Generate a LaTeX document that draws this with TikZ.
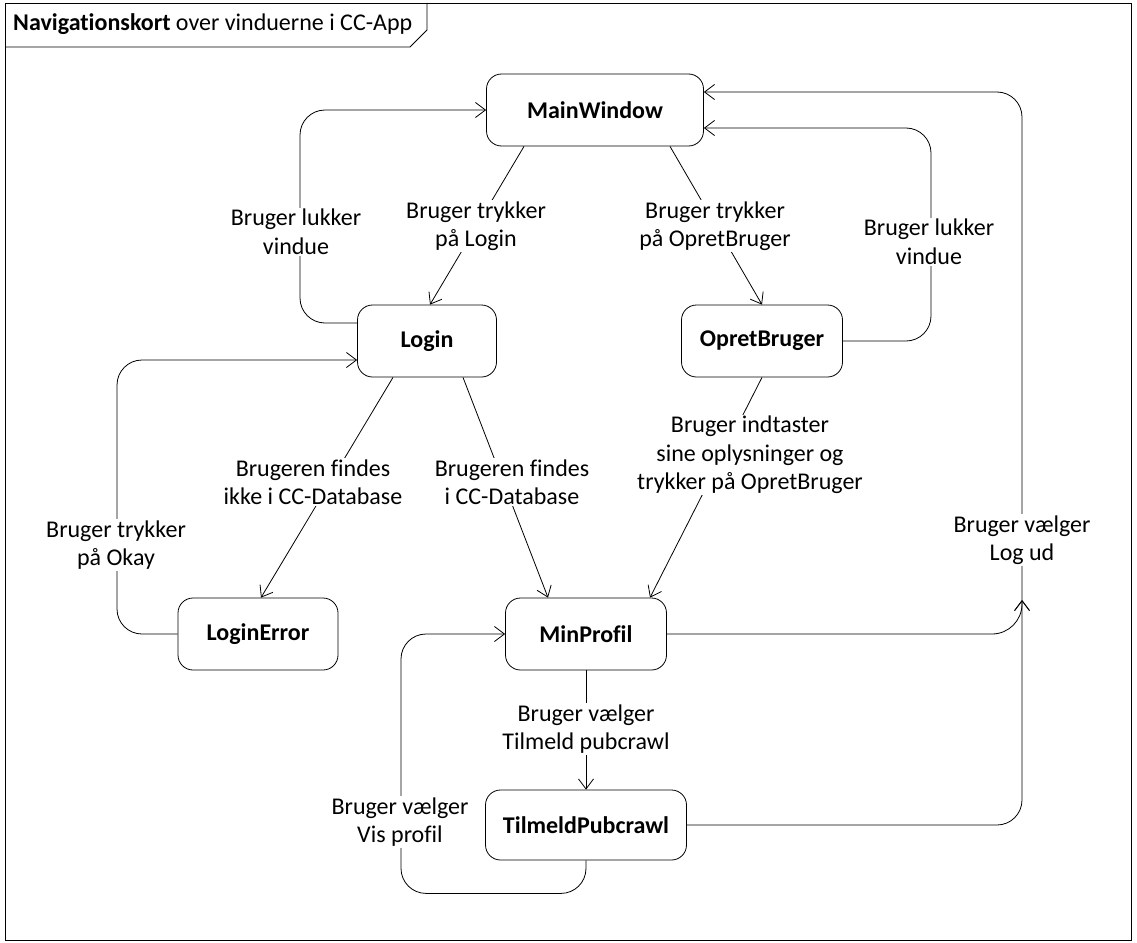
\documentclass[tikz,border=0pt]{standalone}
\usepackage{fontspec}
\setmainfont{Carlito}[Ligatures=NoCommon]
\usetikzlibrary{arrows.meta}
\begin{document}
\begin{tikzpicture}[x=1pt,y=-1pt,
  state/.style={draw, line width=0.8pt, rounded corners=15pt, minimum height=72pt,
    inner sep=0pt, font=\bfseries\fontsize{24}{28}\selectfont},
  lbl/.style={fill=white, align=center, inner sep=1.5pt, font=\fontsize{24}{28.5}\selectfont},
  flow/.style={line width=0.8pt, -{Straight Barb[length=10pt,width=15pt,line width=0.8pt]}},
]
\useasboundingbox (0,0) rectangle (1137,942);

% frame and title tab
\draw[line width=0.8pt] (5,3) rectangle (1131,940);
\draw[line width=0.8pt] (5,47) -- (410,47) -- (427,30) -- (427,3);
\node[anchor=west, inner sep=0pt, font=\fontsize{24}{28}\selectfont] (title) at (13,24)
  {\textbf{Navigationskort} over vinduerne i CC-App};

% states
\node[state, minimum width=217pt] (main)  at (595,110) {MainWindow};
\node[state, minimum width=139pt] (login) at (427,341) {Login};
\node[state, minimum width=161pt] (opret) at (762,341) {OpretBruger};
\node[state, minimum width=160pt] (lerr)  at (258,634) {LoginError};
\node[state, minimum width=161pt] (prof)  at (586,634) {MinProfil};
\node[state, minimum width=201pt, minimum height=70pt] (tilm) at (586,825) {TilmeldPubcrawl};

\coordinate (logout) at (1022,600);

% transitions
\draw[flow, rounded corners=25pt] ([yshift=18pt]login.west) -| (300,110) -- (main.west);
\draw[flow] ([xshift=-71pt]main.south) -- ([xshift=3pt]login.north);
\draw[flow] ([xshift=75pt]main.south) -- (opret.north);
\draw[flow, rounded corners=25pt] (opret.east) -| (931,128) -- ([yshift=-18pt]main.east);
\draw[flow, rounded corners=25pt] (lerr.west) -| (117,360) -- ([yshift=-19pt]login.west);
\draw[flow] ([xshift=-34pt]login.south) -- ([xshift=3pt]lerr.north);
\draw[flow] ([xshift=36pt]login.south) -- ([xshift=-38pt]prof.north);
\draw[flow] (opret.south) -- ([xshift=64pt]prof.north);
\draw[flow] (prof.south) -- (tilm.north);
\draw[flow, rounded corners=25pt] (tilm.south) -- ++(0,33) -| (401,634) -- (prof.west);
\draw[flow, rounded corners=30pt] (prof.east) -- (1022,634) -- (logout);
\draw[flow, rounded corners=25pt] (tilm.east) -| (logout);
\draw[flow, rounded corners=25pt] (logout) |- ([yshift=18pt]main.east);

% transition labels
\node[lbl] (l1)  at (296,232) {Bruger lukker\\vindue};
\node[lbl] (l2)  at (476,226) {Bruger trykker\\på Login};
\node[lbl] (l3)  at (715,226) {Bruger trykker\\på OpretBruger};
\node[lbl] (l4)  at (929,242) {Bruger lukker\\vindue};
\node[lbl] (l5)  at (116,545) {Bruger trykker\\på Okay};
\node[lbl] (l6)  at (313,482) {Brugeren findes\\ikke i CC-Database};
\node[lbl] (l7)  at (512,482) {Brugeren findes\\i CC-Database};
\node[lbl] (l8)  at (750,455) {Bruger indtaster\\sine oplysninger og\\trykker på OpretBruger};
\node[lbl] (l9)  at (1022,540) {Bruger vælger\\Log ud};
\node[lbl] (l10) at (586,729) {Bruger vælger\\Tilmeld pubcrawl};
\node[lbl] (l11) at (400,822) {Bruger vælger\\Vis profil};
\end{tikzpicture}
\end{document}
